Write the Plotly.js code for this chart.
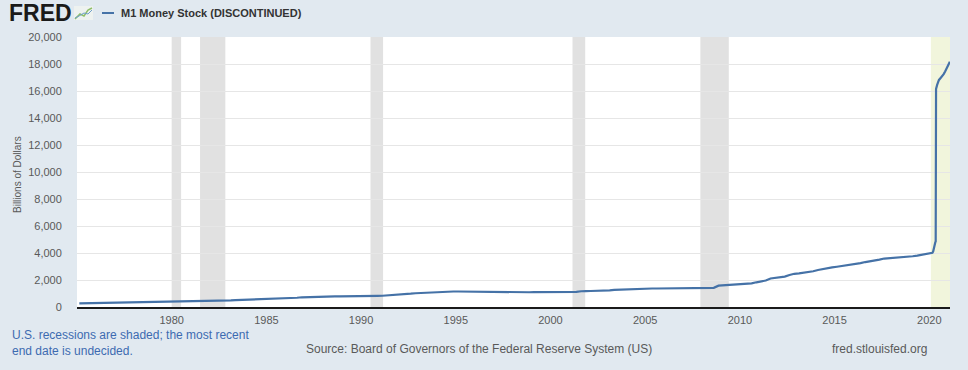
<!DOCTYPE html>
<html>
<head>
<meta charset="utf-8">
<script src="https://cdn.plot.ly/plotly-3.0.1.min.js"></script>
<style>
  html, body { margin: 0; padding: 0; background: #e1e9f0; }
  #chart { width: 968px; height: 370px; }
</style>
</head>
<body>
<div id="chart"></div>
<script>
// ---- Data (billions of dollars, M1 Money Stock) ----
const years = [1975,1976,1977,1978,1979,1980,1981,1982,1983,1984,1985,1986,1987,1988,1989,
  1990,1991,1992,1993,1994,1995,1996,1997,1998,1999,2000,2001,2002,2003,2004,2005,2006,2007,
  2008,2009,2010,2011,2012,2013,2014,2015,2016,2017,2018,2019];
const quarterMonths = ["02-15","05-15","08-15","11-15"];
const quarterlyValues = [
  275,280,286,288,   292,298,301,307,   313,319,326,332,   338,348,355,360,
  363,372,380,384,   388,386,401,410,   418,428,431,437,   446,449,456,474,
  490,505,518,526,   532,542,547,555,   568,582,606,620,   635,658,685,720,
  737,750,749,755,   763,777,784,786,   785,776,780,791,   795,803,815,825,
  832,848,867,888,   922,950,986,1020,  1036,1065,1096,1125, 1135,1143,1149,1150,
  1150,1145,1145,1130, 1120,1105,1090,1080, 1075,1068,1070,1073, 1075,1075,1073,1093,
  1097,1100,1100,1120, 1110,1105,1100,1090, 1100,1120,1165,1180, 1185,1190,1195,1215,
  1230,1265,1285,1295, 1315,1330,1345,1370, 1365,1370,1370,1375, 1380,1375,1365,1365,
  1370,1375,1370,1370, 1375,1385,1420,1580, 1600,1650,1660,1690, 1700,1710,1750,1830,
  1880,1960,2110,2160, 2200,2250,2370,2460, 2490,2530,2590,2650, 2740,2820,2850,2930,
  2980,3030,3070,3100, 3180,3250,3330,3380, 3440,3510,3590,3610, 3640,3660,3680,3740,
  3760,3800,3860,3960
];
// weekly detail points
const detailDates = ["2001-09-10","2001-09-17","2001-09-24",
  "2020-01-06","2020-02-03","2020-03-02","2020-03-16","2020-03-30","2020-04-13","2020-04-27","2020-05-04",
  "2020-05-11","2020-06-01","2020-07-06","2020-08-03","2020-09-07","2020-10-05","2020-11-02",
  "2020-12-07","2021-01-04","2021-02-01"];
const detailValues = [1160,1207,1165,
  3990,3995,4020,4110,4450,4700,4800,4850,
  16150,16450,16820,16950,17080,17250,17450,
  17700,17900,18170];

// recession periods
const recStart = ["1980-01-01","1981-07-01","1990-07-01","2001-03-01","2007-12-01"];
const recEnd   = ["1980-07-01","1982-11-01","1991-03-01","2001-11-01","2009-06-01"];
const recOpenStart = "2020-02-01";

const xTickYears = ["1980","1985","1990","1995","2000","2005","2010","2015","2020"];
const yTicks = [0,2000,4000,6000,8000,10000,12000,14000,16000,18000,20000];

// ---- Build series ----
let pts = [];
years.forEach((y, i) => {
  quarterMonths.forEach((m, q) => pts.push([y + "-" + m, quarterlyValues[i * 4 + q]]));
});
detailDates.forEach((d, i) => pts.push([d, detailValues[i]]));
pts.sort((a, b) => (a[0] < b[0] ? -1 : a[0] > b[0] ? 1 : 0));
const xs = pts.map(p => p[0]);
const ys = pts.map(p => p[1]);

// ---- Layout helpers (pixel -> paper) ----
const L = 77, R = 950, T = 37, B = 307;
const px = x => (x - L) / (R - L);
const py = y => (B - y) / (B - T);

const xEnd = "2021-02-04";
const shapes = [];
recStart.forEach((s, i) => shapes.push({
  type: "rect", xref: "x", yref: "paper", x0: s, x1: recEnd[i], y0: 0, y1: 1,
  fillcolor: "#e1e1e1", line: {width: 0}, layer: "below"
}));
shapes.push({type: "rect", xref: "x", yref: "paper", x0: recOpenStart, x1: xEnd, y0: 0, y1: 1,
  fillcolor: "#f1f5dc", line: {width: 0}, layer: "below"});
// legend sample line
shapes.push({type: "line", xref: "paper", yref: "paper", x0: px(102), x1: px(114), y0: py(13), y1: py(13),
  line: {color: "#4572a7", width: 2}});
// FRED logo icon
shapes.push({type: "rect", xref: "paper", yref: "paper", x0: px(74), x1: px(93), y0: py(20), y1: py(6),
  fillcolor: "#eef2f0", line: {width: 0}});
shapes.push({type: "path", xref: "paper", yref: "paper",
  path: "M " + px(75) + "," + py(19) + " L " + px(80) + "," + py(14) + " L " + px(84) + "," + py(16) + " L " + px(88) + "," + py(10) + " L " + px(92) + "," + py(8),
  line: {color: "#8fbf6a", width: 1.5}});
shapes.push({type: "path", xref: "paper", yref: "paper",
  path: "M " + px(75) + "," + py(18) + " L " + px(79) + "," + py(16) + " L " + px(84) + "," + py(13) + " L " + px(88) + "," + py(14) + " L " + px(92) + "," + py(10),
  line: {color: "#6f9fc8", width: 1}});

const font = "Liberation Sans, Arial, sans-serif";
const annotations = [
  {text: "<b>FRED</b>", xref: "paper", yref: "paper", x: px(7), y: py(13), xanchor: "left", yanchor: "middle",
   showarrow: false, font: {family: font, size: 23, color: "#1a1a1a"}},
  {text: "M1 Money Stock (DISCONTINUED)", xref: "paper", yref: "paper", x: px(119), y: py(13),
   xanchor: "left", yanchor: "middle", showarrow: false, font: {family: font, size: 11, color: "#333333", weight: 600}},
  {text: "Billions of Dollars", xref: "paper", yref: "paper", x: px(17), y: py(174), textangle: -90,
   xanchor: "center", yanchor: "middle", showarrow: false, font: {family: font, size: 10, color: "#595959"}},
  {text: "U.S. recessions are shaded; the most recent<br>end date is undecided.", xref: "paper", yref: "paper",
   x: px(11), y: py(327), xanchor: "left", yanchor: "top", align: "left", showarrow: false, borderpad: 0,
   font: {family: font, size: 12, color: "#3d6bb0"}},
  {text: "Source: Board of Governors of the Federal Reserve System (US)", xref: "paper", yref: "paper",
   x: px(479), y: py(349), xanchor: "center", yanchor: "middle", showarrow: false,
   font: {family: font, size: 12, color: "#595959"}},
  {text: "fred.stlouisfed.org", xref: "paper", yref: "paper",
   x: px(879), y: py(349), xanchor: "center", yanchor: "middle", showarrow: false,
   font: {family: font, size: 12, color: "#595959"}}
];

const trace = {
  x: xs, y: ys, type: "scatter", mode: "lines",
  line: {color: "#4572a7", width: 2.2},
  name: "M1 Money Stock (DISCONTINUED)", hoverinfo: "x+y"
};

const layout = {
  width: 968, height: 370,
  margin: {l: L, r: 968 - R, t: T, b: 370 - B, pad: 0},
  paper_bgcolor: "#e1e9f0", plot_bgcolor: "#ffffff",
  showlegend: false,
  font: {family: font, size: 11, color: "#595959"},
  xaxis: {
    type: "date", range: ["1975-01-01", xEnd],
    tickvals: xTickYears.map(y => y + "-01-01"), ticktext: xTickYears,
    showgrid: false, zeroline: false,
    showline: true, linecolor: "#1a1a1a", linewidth: 2,
    ticks: "outside", ticklen: 2, tickcolor: "rgba(0,0,0,0)",
    tickfont: {family: font, size: 11, color: "#595959"}
  },
  yaxis: {
    range: [0, 20000], tickvals: yTicks, tickformat: ",.0f",
    showgrid: true, gridcolor: "#e6e6e6", gridwidth: 1,
    zeroline: false, showline: false,
    ticks: "outside", ticklen: 12, tickcolor: "rgba(0,0,0,0)",
    tickfont: {family: font, size: 11, color: "#595959"}
  },
  shapes: shapes,
  annotations: annotations
};

Plotly.newPlot("chart", [trace], layout, {staticPlot: true, displayModeBar: false});
</script>
</body>
</html>
